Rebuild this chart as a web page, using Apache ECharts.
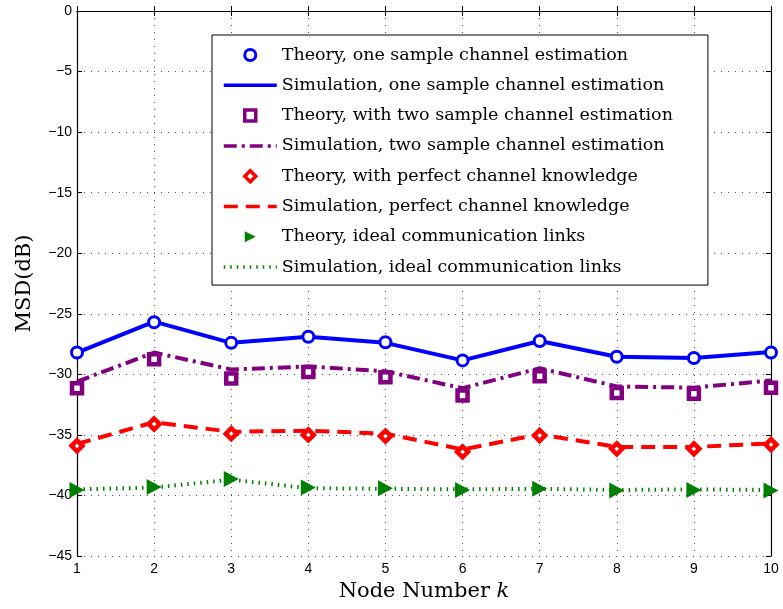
<!DOCTYPE html>
<html>
<head>
<meta charset="utf-8">
<script src="https://cdn.jsdelivr.net/npm/echarts@6/dist/echarts.min.js"></script>
<style>html,body{margin:0;padding:0;background:#fff;}#c{width:783px;height:609px;}</style>
</head>
<body>
<div id="c"></div>
<script>
const nodes = [1, 2, 3, 4, 5, 6, 7, 8, 9, 10];
const yTicks = [0, -5, -10, -15, -20, -25, -30, -35, -40, -45];
const theoryOne = [-28.2, -25.7, -27.4, -26.9, -27.35, -28.85, -27.25, -28.55, -28.65, -28.2];
const simOne = [-28.2, -25.65, -27.4, -26.9, -27.4, -28.85, -27.25, -28.55, -28.65, -28.15];
const theoryTwo = [-31.15, -28.75, -30.35, -29.8, -30.25, -31.75, -30.15, -31.55, -31.6, -31.1];
const simTwo = [-30.6, -28.2, -29.6, -29.35, -29.75, -31.15, -29.5, -31.0, -31.1, -30.5];
const theoryPerfect = [-35.9, -34.1, -34.9, -35.0, -35.1, -36.4, -35.05, -36.15, -36.15, -35.8];
const simPerfect = [-35.75, -33.95, -34.75, -34.65, -34.9, -36.2, -34.95, -36.0, -36.0, -35.7];
const theoryIdeal = [-39.55, -39.3, -38.65, -39.35, -39.4, -39.55, -39.45, -39.6, -39.55, -39.6];
const simIdeal = [-39.5, -39.35, -38.7, -39.4, -39.45, -39.5, -39.45, -39.55, -39.5, -39.55];

const names = [
  'Theory, one sample channel estimation',
  'Simulation, one sample channel estimation',
  'Theory, with two sample channel estimation',
  'Simulation, two sample channel estimation',
  'Theory, with perfect channel knowledge',
  'Simulation, perfect channel knowledge',
  'Theory, ideal communication links',
  'Simulation, ideal communication links'
];

const pairs = arr => nodes.map((x, i) => [x, arr[i]]);
const BLUE = '#0000ff', PURPLE = '#800080', RED = '#ff0000', GREEN = '#008000';
const SQUARE = 'path://M0,0 L10,0 L10,10 L0,10 Z';
const DIAMOND = 'path://M5,0 L10,5 L5,10 L0,5 Z';
const TRIANGLE = 'path://M0,0 L10,5 L0,10 Z';

const simLine = (name, arr, color, type, width) => ({
  name, type: 'line', data: pairs(arr), symbol: 'none', showSymbol: false, z: 2,
  lineStyle: { color, width, type, cap: 'butt' }, itemStyle: { color },
  emphasis: { disabled: true }
});
const theory = (name, arr, symbol, size, fill, border, bw) => ({
  name, type: 'scatter', data: pairs(arr), symbol, symbolSize: size, z: 3,
  itemStyle: { color: fill, borderColor: border, borderWidth: bw, opacity: 1 },
  emphasis: { disabled: true }
});

const legendData = [
  { name: names[0], itemStyle: { borderWidth: 3 } },
  { name: names[1], itemStyle: { opacity: 0 }, lineStyle: { width: 3.5 } },
  { name: names[2], itemStyle: { borderWidth: 3.5 } },
  { name: names[3], itemStyle: { opacity: 0 }, lineStyle: { width: 3.5 } },
  { name: names[4], itemStyle: { borderWidth: 3.5 } },
  { name: names[5], itemStyle: { opacity: 0 }, lineStyle: { width: 3.5 } },
  { name: names[6] },
  { name: names[7], itemStyle: { opacity: 0 }, lineStyle: { width: 3.5 } }
];

const chart = echarts.init(document.getElementById('c'), null, { renderer: 'canvas' });
chart.setOption({
  animation: false,
  backgroundColor: '#fff',
  grid: { left: 77, right: 12, top: 11, bottom: 53, containLabel: false },
  xAxis: [{
    type: 'value', min: 1, max: 10, interval: 1, position: 'bottom',
    name: '{n|Node Number }{k|k}', nameLocation: 'middle', nameGap: 24,
    nameTextStyle: { rich: {
      n: { fontFamily: 'DejaVu Serif', fontSize: 21, color: '#000' },
      k: { fontFamily: 'DejaVu Serif', fontSize: 21, fontStyle: 'italic', color: '#000' } } },
    axisLine: { show: true, lineStyle: { color: '#000', width: 1.2 } },
    axisTick: { show: true, inside: true, length: 5, lineStyle: { color: '#000' } },
    axisLabel: { color: '#000', fontFamily: 'Liberation Sans', fontSize: 14, margin: 6 },
    splitLine: { show: true, lineStyle: { color: '#555', width: 1, type: [1, 6] } }
  }, {
    type: 'value', min: 1, max: 10, interval: 1, position: 'top',
    axisLine: { show: true, onZero: false, lineStyle: { color: '#000', width: 1.2 } },
    axisTick: { show: true, inside: true, length: 5, lineStyle: { color: '#000' } },
    axisLabel: { show: false }, splitLine: { show: false }
  }],
  yAxis: [{
    type: 'value', min: -45, max: 0, interval: 5, position: 'left',
    name: 'MSD(dB)', nameLocation: 'middle', nameGap: 42, nameRotate: 90,
    nameTextStyle: { fontFamily: 'DejaVu Serif', fontSize: 21, color: '#000' },
    axisLine: { show: true, onZero: false, lineStyle: { color: '#000', width: 1.2 } },
    axisTick: { show: true, inside: true, length: 5, lineStyle: { color: '#000' } },
    axisLabel: { color: '#000', fontFamily: 'Liberation Sans', fontSize: 14, margin: 5,
      formatter: v => (v < 0 ? '\u2212' + Math.abs(v) : String(v)) },
    splitLine: { show: true, lineStyle: { color: '#555', width: 1, type: [1, 6] } }
  }, {
    type: 'value', min: -45, max: 0, interval: 5, position: 'right',
    axisLine: { show: true, onZero: false, lineStyle: { color: '#000', width: 1.2 } },
    axisTick: { show: true, inside: true, length: 5, lineStyle: { color: '#000' } },
    axisLabel: { show: false }, splitLine: { show: false }
  }],
  legend: {
    data: legendData, orient: 'vertical', left: 212, top: 35,
    padding: [11, 35, 9, 10], itemGap: 12.3, itemWidth: 53, itemHeight: 11,
    backgroundColor: '#fff', borderColor: '#000', borderWidth: 1,
    selectedMode: false,
    textStyle: { fontFamily: 'DejaVu Serif', fontSize: 17.5, color: '#000' }
  },
  series: [
    simLine(names[1], simOne, BLUE, 'solid', 4),
    simLine(names[3], simTwo, PURPLE, [13, 5, 3, 5], 4),
    simLine(names[5], simPerfect, RED, [14, 8], 4),
    simLine(names[7], simIdeal, GREEN, [1.5, 5], 4),
    theory(names[0], theoryOne, 'circle', 11, '#fff', BLUE, 3),
    theory(names[2], theoryTwo, SQUARE, 10, '#fff', PURPLE, 4.5),
    theory(names[4], theoryPerfect, DIAMOND, 11, '#fff', RED, 4.5),
    theory(names[6], theoryIdeal, TRIANGLE, [15, 16], GREEN, GREEN, 0)
  ]
});
</script>
</body>
</html>
